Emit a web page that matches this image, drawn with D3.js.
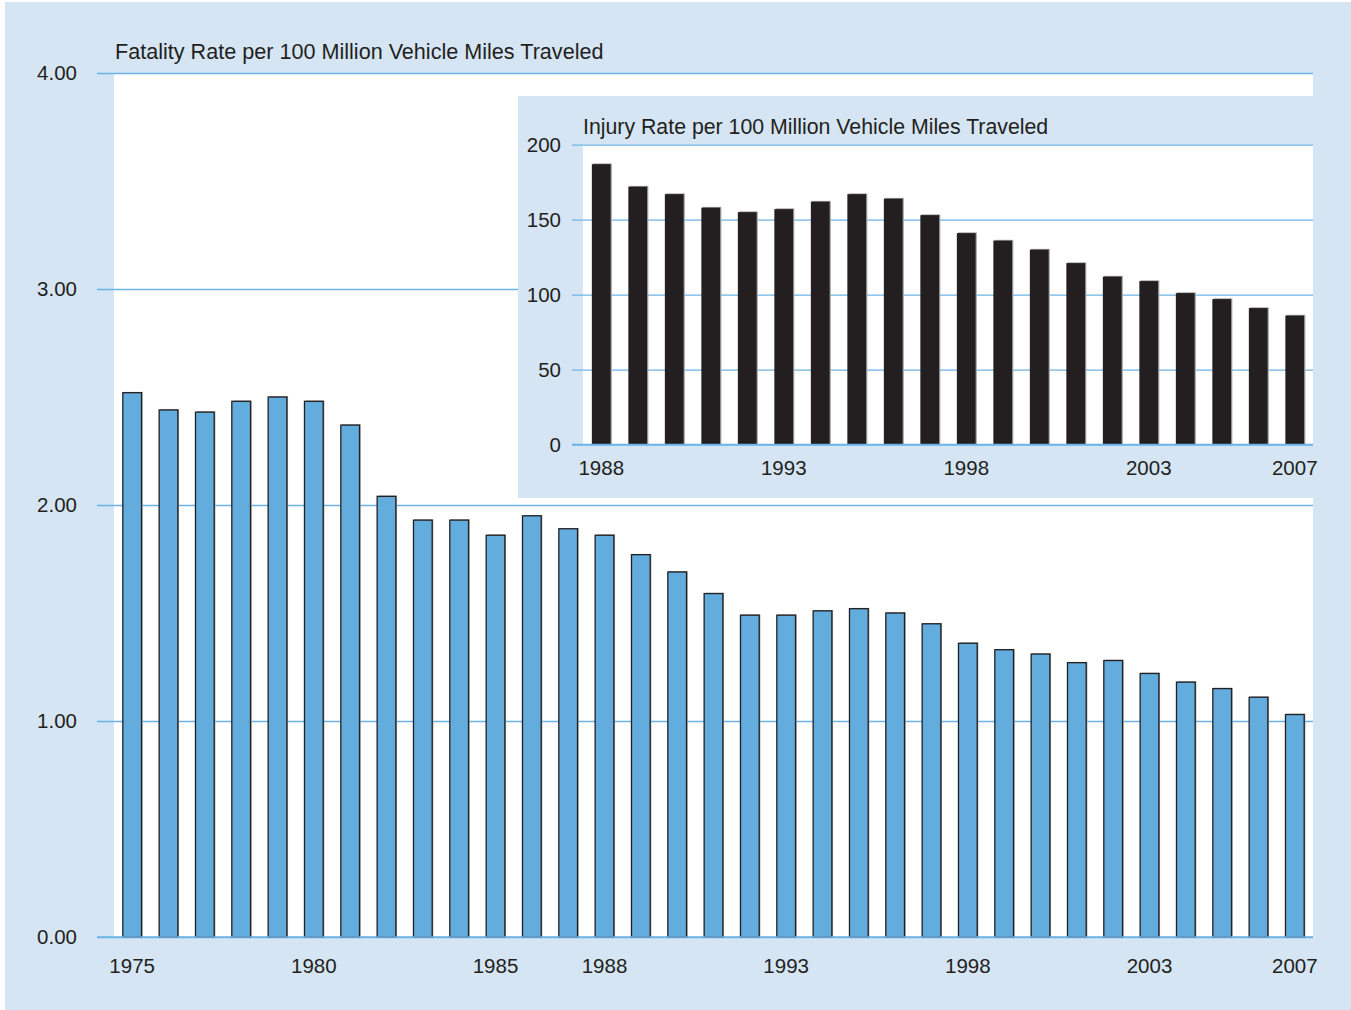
<!DOCTYPE html>
<html>
<head>
<meta charset="utf-8">
<script src="https://cdn.jsdelivr.net/npm/d3@7"></script>
<style>
  body { margin: 0; background: #fff; }
  svg { display: block; }
  text { font-family: "Liberation Sans", Arial, Helvetica, sans-serif; fill: #231f20; }
</style>
</head>
<body>
<script>
// fatality rate per 100 million VMT, 1975-2007
var fatalityYears = [1975,1976,1977,1978,1979,1980,1981,1982,1983,1984,1985,1986,1987,1988,1989,1990,
  1991,1992,1993,1994,1995,1996,1997,1998,1999,2000,2001,2002,2003,2004,2005,2006,2007]
var fatalityRate = [2.52,2.44,2.43,2.48,2.50,2.48,2.37,2.04,1.93,1.93,1.86,1.95,1.89,1.86,1.77,1.69,
  1.59,1.49,1.49,1.51,1.52,1.50,1.45,1.36,1.33,1.31,1.27,1.28,1.22,1.18,1.15,1.11,1.03]
var fatalityTicks = [0,1,2,3,4]
var fatalityYearLabels = [1975,1980,1985,1988,1993,1998,2003,2007]

// injury rate per 100 million VMT, 1988-2007 (inset)
var injuryYears = [1988,1989,1990,1991,1992,1993,1994,1995,1996,1997,1998,1999,2000,2001,2002,2003,2004,2005,2006,2007]
var injuryRate = [187,172,167,158,155,157,162,167,164,153,141,136,130,121,112,109,101,97,91,86]
var injuryTicks = [0,50,100,150,200]
var injuryYearLabels = [1988,1993,1998,2003,2007]

var gridColor = "#6db4e6"

var svg = d3.select("body").append("svg")
  .attr("width",1351)
  .attr("height",1010)

svg.append("rect")
  .attr("x",5).attr("y",2)
  .attr("width",1346).attr("height",1008)
  .attr("fill","#d5e5f4")

var drawBars = function(g, years, values, x, y, opts)
{
  // grey shadow behind each bar
  g.selectAll("rect.shadow")
    .data(values)
    .enter()
    .append("rect")
    .attr("class","shadow")
    .attr("x",function(d,i){return x(years[i]) + 1.2})
    .attr("y",function(d){return y(d) - 0.8})
    .attr("width",x.bandwidth())
    .attr("height",function(d){return y(0) - y(d) + 0.8})
    .attr("fill","#a3a3a3")

  g.selectAll("rect.bar")
    .data(values)
    .enter()
    .append("rect")
    .attr("class","bar")
    .attr("x",function(d,i){return x(years[i])})
    .attr("y",function(d){return y(d)})
    .attr("width",x.bandwidth())
    .attr("height",function(d){return y(0) - y(d)})
    .attr("fill",opts.fill)
    .attr("stroke",opts.stroke)
    .attr("stroke-width",opts.strokeWidth)
}

var drawChart = function(cfg)
{
  var g = svg.append("g")

  if (cfg.box)
  {
    g.append("rect")
      .attr("x",cfg.box[0]).attr("y",cfg.box[1])
      .attr("width",cfg.box[2]-cfg.box[0]).attr("height",cfg.box[3]-cfg.box[1])
      .attr("fill","#d5e5f4")
  }

  g.append("rect")
    .attr("x",cfg.left).attr("y",cfg.top)
    .attr("width",cfg.right-cfg.left).attr("height",cfg.bottom-cfg.top)
    .attr("fill","#fff")

  var x = d3.scaleBand()
    .domain(cfg.years)
    .range([cfg.left,cfg.right])
    .paddingInner(0.485)
    .paddingOuter(0.2425)

  var y = d3.scaleLinear()
    .domain([0,cfg.max])
    .range([cfg.bottom,cfg.top])

  var yAxis = d3.axisLeft(y)
    .tickValues(cfg.ticks)
    .tickFormat(cfg.format)
    .tickSize(-(cfg.right-cfg.gridStart))
    .tickPadding(cfg.tickPad)

  var ya = g.append("g")
    .attr("transform","translate(" + cfg.gridStart + ",0)")
    .call(yAxis)
  ya.select(".domain").remove()
  ya.selectAll("line").attr("stroke",gridColor).attr("stroke-width",1.3)
  ya.selectAll("text")
    .style("font-size","20.5px")
    .attr("fill","#231f20")
    .attr("dy","0.33em")

  drawBars(g.append("g"), cfg.years, cfg.values, x, y, cfg.bar)

  // baseline redrawn over the bars
  g.append("line")
    .attr("x1",cfg.gridStart).attr("x2",cfg.right)
    .attr("y1",y(0)).attr("y2",y(0))
    .attr("stroke",gridColor).attr("stroke-width",1.3)

  var xAxis = d3.axisBottom(x)
    .tickValues(cfg.yearLabels)
    .tickSize(0)
    .tickPadding(cfg.xPad)

  var xa = g.append("g")
    .attr("transform","translate(0," + cfg.bottom + ")")
    .call(xAxis)
  xa.select(".domain").remove()
  xa.selectAll("text")
    .style("font-size","20.5px")
    .attr("fill","#231f20")

  g.append("text")
    .attr("x",cfg.titleX)
    .attr("y",cfg.titleY)
    .style("font-size",cfg.titleSize)
    .text(cfg.title)
}

drawChart({
  left:114, right:1313, top:73, bottom:937, gridStart:97,
  years:fatalityYears, values:fatalityRate, yearLabels:fatalityYearLabels,
  max:4, ticks:fatalityTicks, format:d3.format(".2f"), tickPad:20, xPad:21,
  bar:{fill:"#63acde", stroke:"#231f20", strokeWidth:1.3},
  title:"Fatality Rate per 100 Million Vehicle Miles Traveled", titleX:115, titleY:59, titleSize:"21.6px"
})

drawChart({
  box:[518,96,1313,498],
  left:583, right:1313, top:144.7, bottom:444.5, gridStart:572,
  years:injuryYears, values:injuryRate, yearLabels:injuryYearLabels,
  max:200, ticks:injuryTicks, format:d3.format("d"), tickPad:11, xPad:15.5,
  bar:{fill:"#231f20", stroke:"none", strokeWidth:0},
  title:"Injury Rate per 100 Million Vehicle Miles Traveled", titleX:583, titleY:134, titleSize:"21.3px"
})
</script>
</body>
</html>
